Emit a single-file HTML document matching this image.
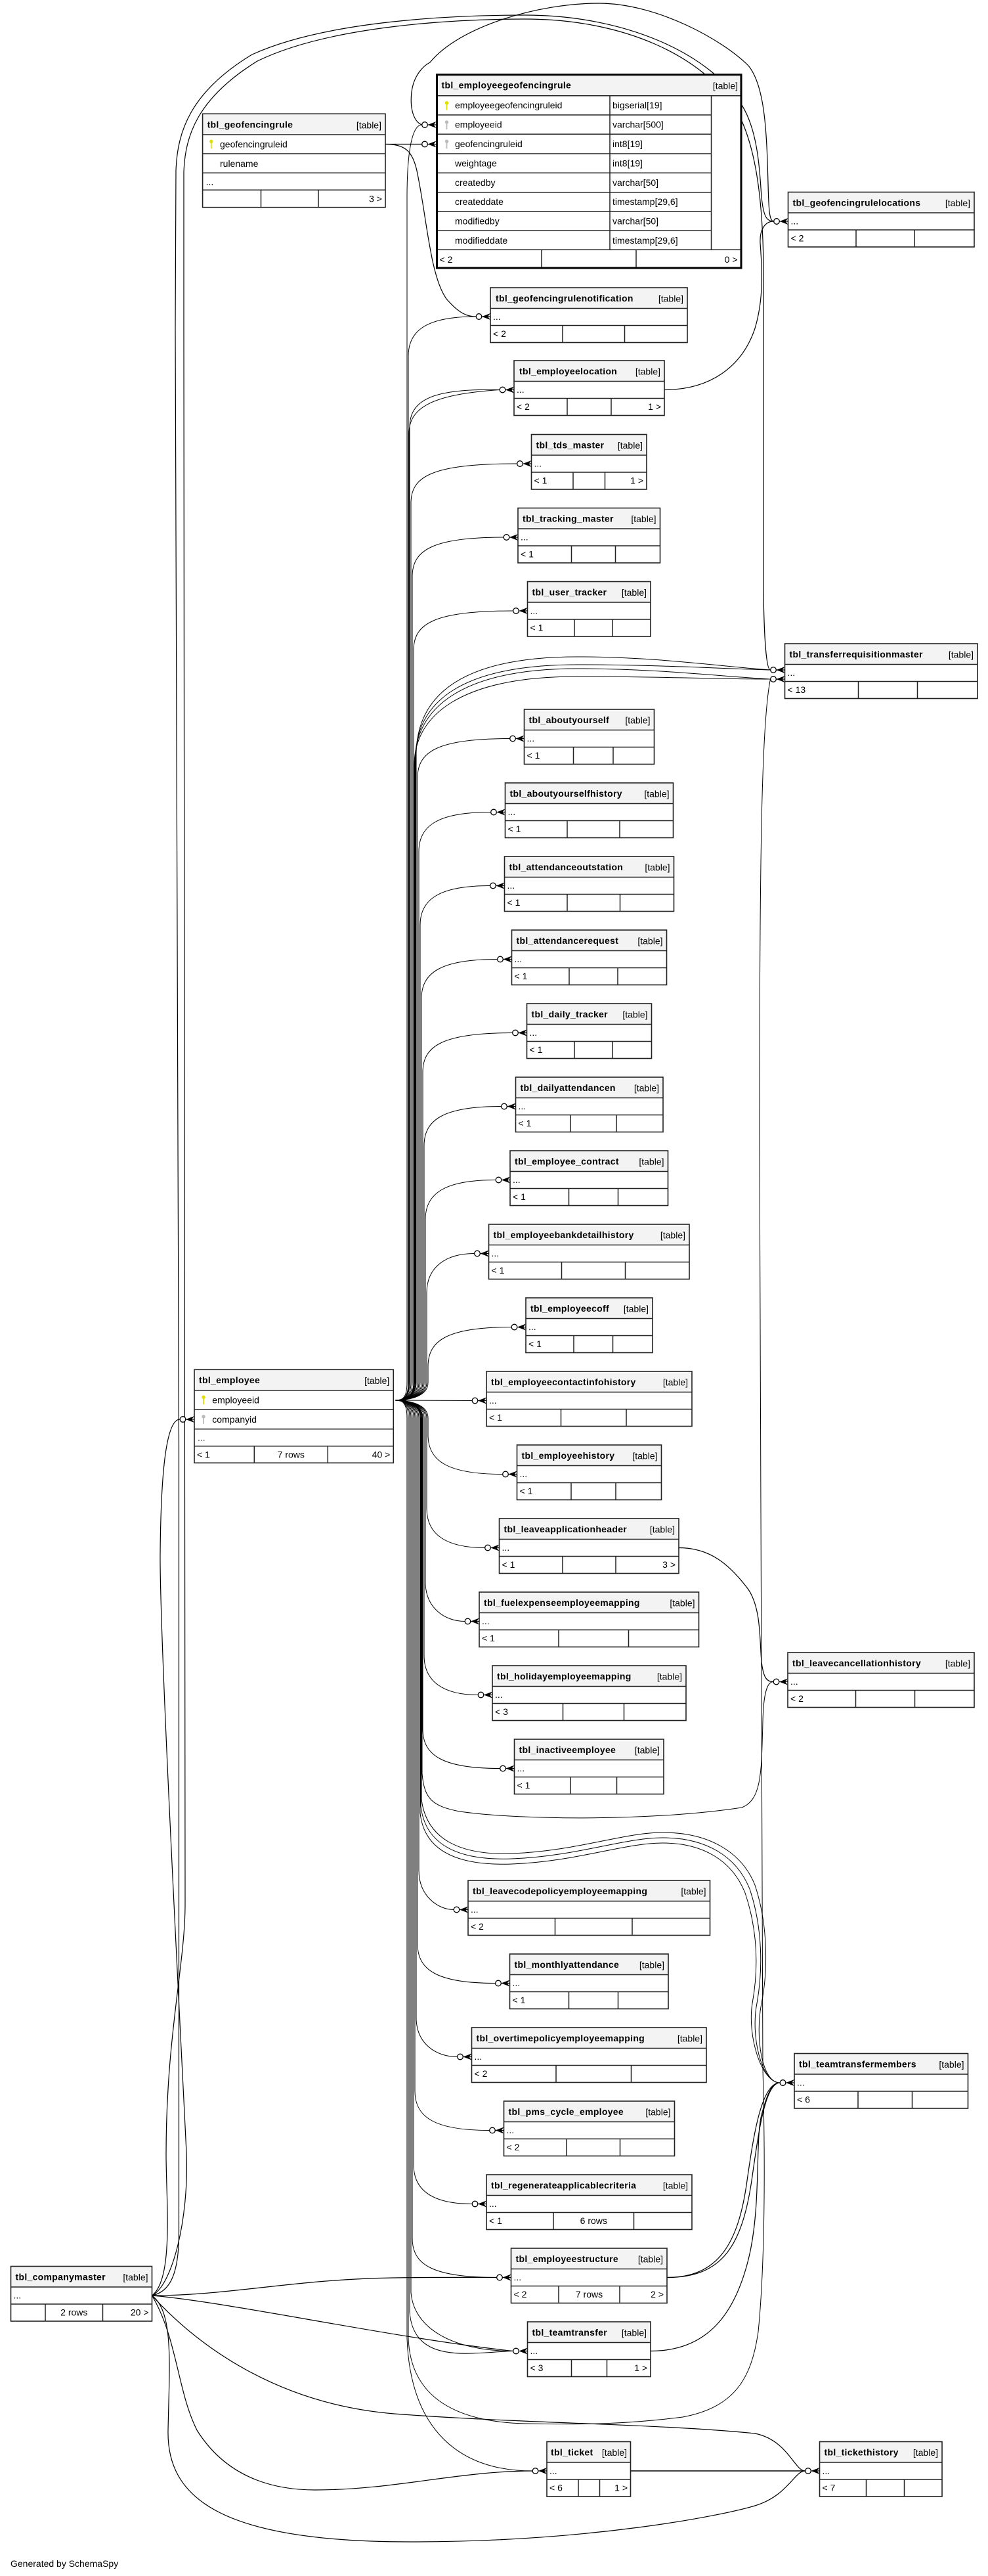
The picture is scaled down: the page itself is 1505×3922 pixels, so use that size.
<!DOCTYPE html>
<html>
<head>
<meta charset="utf-8">
<style>
html,body{margin:0;padding:0;background:#fff;}
body{width:1505px;height:3922px;overflow:hidden;}
svg{display:block;}
.c{fill:none;stroke:#000;stroke-width:1.2}
.b{fill:none;stroke:#000;stroke-width:1}
.bx{fill:none;stroke:#222;stroke-width:1.6}
.ln{fill:none;stroke:#222;stroke-width:1.5}
.hd{fill:#f3f3f3}
text{font-family:"Liberation Sans",Arial,sans-serif;font-size:14px;fill:#000}
.t{font-weight:bold;letter-spacing:0.3px}
</style>
</head>
<body>
<svg width="1505" height="3922" viewBox="0 0 1505 3922" xmlns="http://www.w3.org/2000/svg">
<defs>
<g id="cf">
<line x1="-13" y1="0" x2="0" y2="0" stroke="#000" stroke-width="1.2"/>
<polygon points="-13,0 0,-5 -4,0 0,5" fill="#000"/>
<circle cx="-17.5" cy="0" r="4.3" fill="#fff" stroke="#000" stroke-width="1.3"/>
</g>
<g id="key">
<circle cx="0" cy="0" r="2.7"/>
<rect x="-0.9" y="1" width="1.8" height="10"/>
</g>
</defs>
<rect width="1505" height="3922" fill="#fff"/>

<!-- ================= CONNECTORS ================= -->
<g class="b">
<!-- employee bundle: above -->
<path d="M602,2132 C612,2132 652,2130 652,2105 L652,2080.5 C652,2040.5 682,2020.5 779,2020.5"/>
<path d="M602,2132 C612,2132 650,2130 650,2105 L650,1968.5 C650,1928.5 680,1908.5 722.5,1908.5"/>
<path d="M602,2132 C612,2132 648,2130 648,2105 L648,1856.5 C648,1816.5 678,1796.5 755,1796.5"/>
<path d="M602,2132 C612,2132 646,2130 646,2105 L646,1744.5 C646,1704.5 676,1684.5 763.5,1684.5"/>
<path d="M602,2132 C612,2132 644,2130 644,2105 L644,1632.5 C644,1592.5 674,1572.5 780.5,1572.5"/>
<path d="M602,2132 C612,2132 642,2130 642,2105 L642,1520.5 C642,1480.5 672,1460.5 757.5,1460.5"/>
<path d="M602,2132 C612,2132 640,2130 640,2105 L640,1408.5 C640,1368.5 670,1348.5 746.5,1348.5"/>
<path d="M602,2132 C612,2132 638,2130 638,2105 L638,1296.5 C638,1256.5 668,1236.5 747.5,1236.5"/>
<path d="M602,2132 C612,2132 636,2130 636,2105 L636,1184.5 C636,1144.5 666,1124.5 776.5,1124.5"/>
<path d="M602,2132 C612,2132 634,2130 634,2105 L634,1150 C634,1060 700,1000 880,1000 C1000,1000 1100,1015 1173.5,1020"/>
<path d="M602,2132 C612,2132 633,2130 633,2105 L633,1155 C633,1070 700,1012 880,1012 C1000,1012 1100,1018 1173.5,1020"/>
<path d="M602,2132 C612,2132 632,2130 632,2105 L632,1160 C632,1080 700,1018 880,1018 C1000,1018 1100,1030 1173.5,1034"/>
<path d="M602,2132 C612,2132 631,2130 631,2105 L631,1165 C631,1090 700,1030 880,1030 C1000,1030 1100,1034 1173.5,1034"/>
<path d="M602,2132 C612,2132 630,2130 630,2105 L630,990 C630,950 660,930 781.5,930"/>
<path d="M602,2132 C612,2132 628,2130 628,2105 L628,878 C628,838 658,818 767,818"/>
<path d="M602,2132 C612,2132 626,2130 626,2105 L626,766 C626,726 656,706 787.5,706"/>
<path d="M602,2132 C612,2132 624,2130 624,2105 L624,651 C624,611 654,591 761,593.5"/>
<path d="M602,2132 C612,2132 623,2130 623,2105 L623,660 C623,620 660,600 761,593.5"/>
<path d="M602,2132 C612,2132 622,2130 622,2105 L622,542 C622,502 652,482 725,482"/>
<path d="M602,2132 C612,2132 620,2130 620,2105 L620,300 C620,230 628,190 642.5,190"/>
<path d="M602,2132 L719,2132.5"/>
<!-- employee bundle: below -->
<path d="M602,2132 C612,2132 652,2134 652,2159 L652,2184.5 C652,2224.5 682,2244.5 765.5,2244.5"/>
<path d="M602,2132 C612,2132 650,2134 650,2159 L650,2296.5 C650,2336.5 680,2356.5 738.5,2356.5"/>
<path d="M602,2132 C612,2132 648,2134 648,2159 L648,2408.5 C648,2448.5 678,2468.5 708,2468.5"/>
<path d="M602,2132 C612,2132 646,2134 646,2159 L646,2520.5 C646,2560.5 676,2580.5 728,2580.5"/>
<path d="M602,2132 C612,2132 644,2134 644,2159 L644,2632.5 C644,2672.5 674,2692.5 761.5,2692.5"/>
<path d="M602,2132 C612,2132 643,2134 643,2159 L643,2700 C646,2740 660,2750 700,2758 C800,2772 1000,2772 1130,2752 C1160,2740 1160,2700 1162,2620 C1163,2580 1168,2560.5 1178,2560.5"/>
<path d="M602,2132 C612,2132 642,2134 642,2159 L642,2740 C650,2800 700,2825 780,2822 C880,2818 950,2790 1010,2790 C1080,2790 1130,2820 1150,2870 C1170,2930 1170,3000 1160,3050 C1150,3100 1160,3171 1188,3171"/>
<path d="M602,2132 C612,2132 641,2134 641,2159 L641,2750 C648,2810 700,2833 780,2830 C880,2826 950,2798 1010,2798 C1075,2798 1122,2826 1142,2876 C1162,2936 1162,3000 1153,3050 C1143,3100 1160,3171 1188,3171"/>
<path d="M602,2132 C612,2132 640,2134 640,2159 L640,2760 C646,2820 700,2841 780,2838 C880,2834 950,2806 1010,2806 C1070,2806 1115,2832 1135,2882 C1155,2942 1155,3000 1146,3050 C1138,3100 1160,3171 1188,3171"/>
<path d="M602,2132 C612,2132 638,2134 638,2159 L638,2847.5 C638,2887.5 668,2907.5 691,2907.5"/>
<path d="M602,2132 C612,2132 636,2134 636,2159 L636,2959.5 C636,2999.5 666,3019.5 754.5,3019.5"/>
<path d="M602,2132 C612,2132 634,2134 634,2159 L634,3071.5 C634,3111.5 664,3131.5 696.5,3131.5"/>
<path d="M602,2132 C612,2132 632,2134 632,2159 L632,3183.5 C632,3223.5 662,3243.5 745.5,3243.5"/>
<path d="M602,2132 C612,2132 630,2134 630,2159 L630,3295.5 C630,3335.5 660,3355.5 719,3355.5"/>
<path d="M602,2132 C612,2132 628,2134 628,2159 L628,3407.5 C628,3447.5 658,3467.5 756.5,3467.5"/>
<path d="M602,2132 C612,2132 626,2134 626,2159 L626,3490 C630,3545 690,3579.5 781.5,3579.5"/>
<path d="M602,2132 C612,2132 624,2134 624,2159 L624,3520 C628,3575 670,3585 720,3583 C750,3582 770,3579.5 781.5,3579.5"/>
<path d="M602,2132 C612,2132 622,2134 622,2159 L622,3560 C625,3640 680,3687 800,3690 C900,3692 960,3690 1040,3680 C1120,3665 1145,3620 1155,3550 C1165,3450 1166,3300 1162,3150 L1157,1730 C1157,1300 1160,1100 1173.5,1034"/>
<path d="M602,2132 C612,2132 620,2134 620,2159 L620,3560 C625,3700 700,3762 811,3762"/>
</g>

<g class="c">
<!-- companymaster -->
<path d="M231.5,3495 C262,3480 288,3380 284,3278 C278,3150 243,2500 244,2366 C245,2250 252,2161 274,2161"/>
<path d="M231.5,3495 C255,3490 272.5,3470 272.5,3400 L272.5,2200 L267,500 L268,260 C270,200 290,140 384,83 C500,30 700,23 800,23 C950,23 1080,80 1130,160 C1155,200 1157,260 1160,300 C1163,330 1168,337 1178.5,337"/>
<path d="M231.5,3495 C265,3470 253,3350 253,3280 C253,3100 282,2990 282,2900 L280,500 L280,262 C282,207 300,150 392,93 C505,38 700,29 800,29 C950,29 1070,85 1120,165 C1150,215 1163,300 1163,420 L1163,900 C1164,980 1168,1020 1173.5,1020"/>
<path d="M231.5,3495 C350,3495 450,3470 600,3468 C680,3467 720,3467.5 756.5,3467.5"/>
<path d="M231.5,3495 C350,3505 600,3560 781.5,3579.5"/>
<path d="M231.5,3495 C270,3560 270,3640 300,3700 C350,3780 430,3791 480,3791 C600,3791 700,3762 811,3762"/>
<path d="M231.5,3495 C300,3570 420,3660 600,3675 C800,3690 1000,3690 1150,3705 C1200,3715 1210,3762 1226.5,3762"/>
<path d="M231.5,3495 C265,3520 258,3600 256,3700 C254,3800 330,3870 624,3870 C900,3870 1100,3830 1150,3815 C1200,3800 1210,3762 1226.5,3762"/>

<!-- geofencing -->
<path d="M642.5,190 C630,185 624,165 627,140 C630,115 645,100 655,95 C700,40 820,5 912,5 C1000,5 1100,60 1140,100 C1165,130 1168,200 1170,280 C1171,320 1172,337 1178.5,337"/>
<path d="M587,219.5 L642.5,219.5"/>
<path d="M587,219.5 C615,219.5 628,228 635,260 C650,330 655,420 680,455 C700,478 712,482 725,482"/>
<path d="M1012,593.5 C1080,593.5 1130,560 1150,500 C1165,450 1160,400 1158,370 C1157,350 1165,337 1178.5,337"/>
<!-- other -->
<path d="M1034,2356.5 C1080,2356.5 1110,2380 1140,2420 C1160,2450 1157,2500 1160,2530 C1163,2555 1168,2560.5 1178,2560.5"/>
<path d="M1016,3467.5 C1100,3467.5 1130,3420 1145,3320 C1155,3250 1165,3171 1188,3171"/>
<path d="M1016,3467.5 C1095,3467.5 1125,3415 1138,3320 C1148,3250 1160,3171 1188,3171"/>
<path d="M991,3579.5 C1080,3579.5 1120,3520 1140,3440 C1160,3360 1150,3260 1160,3220 C1168,3190 1175,3171 1188,3171"/>
<path d="M960.5,3762 L1226.5,3762" stroke-width="1.6"/>
</g>

<!-- ================= TABLES ================= -->

<!-- tbl_geofencingrule -->
<g transform="translate(308.6,173.3)">
<rect width="278.4" height="142.4" fill="#fff"/>
<rect width="278.4" height="31.7" class="hd"/>
<path class="ln" d="M0,31.7H278.4 M0,60.7H278.4 M0,90H278.4 M0,116H278.4 M88.9,116V142.4 M176.4,116V142.4"/>
<rect width="278.4" height="142.4" class="bx"/>
<text x="7" y="21" class="t">tbl_geofencingrule</text>
<text x="272.4" y="22" text-anchor="end">[table]</text>
<use href="#key" x="13.2" y="42" fill="#e0e000"/>
<text x="26.4" y="51">geofencingruleid</text>
<text x="26.4" y="80.5">rulename</text>
<text x="5" y="108">...</text>
<text x="273.4" y="134" text-anchor="end">3 &gt;</text>
</g>

<!-- tbl_employeegeofencingrule -->
<g transform="translate(664.5,112.7)">
<rect width="465.5" height="296.3" fill="#fff"/>
<rect width="465.5" height="33" class="hd"/>
<path class="ln" d="M0,33H465.5 M0,62.3H419 M0,91.6H419 M0,121.3H419 M0,150.6H419 M0,180H419 M0,209.3H419 M0,238.6H419 M0,267.6H465.5 M264.5,33V267.6 M419,33V267.6 M160.5,267.6V296.3 M304.5,267.6V296.3"/>
<rect x="1" y="1" width="463.5" height="294.3" fill="none" stroke="#000" stroke-width="3"/>
<text x="8" y="22" class="t">tbl_employeegeofencingrule</text>
<text x="459.5" y="23" text-anchor="end">[table]</text>
<use href="#key" x="16" y="44" fill="#e0e000"/>
<use href="#key" x="16" y="73.3" fill="#bbbbbb"/>
<use href="#key" x="16" y="102.6" fill="#bbbbbb"/>
<text x="28.5" y="52.5">employeegeofencingruleid</text>
<text x="268.5" y="52.5">bigserial[19]</text>
<text x="28.5" y="81.8">employeeid</text>
<text x="268.5" y="81.8">varchar[500]</text>
<text x="28.5" y="111.1">geofencingruleid</text>
<text x="268.5" y="111.1">int8[19]</text>
<text x="28.5" y="140.8">weightage</text>
<text x="268.5" y="140.8">int8[19]</text>
<text x="28.5" y="170.1">createdby</text>
<text x="268.5" y="170.1">varchar[50]</text>
<text x="28.5" y="199.5">createddate</text>
<text x="268.5" y="199.5">timestamp[29,6]</text>
<text x="28.5" y="228.8">modifiedby</text>
<text x="268.5" y="228.8">varchar[50]</text>
<text x="28.5" y="258.1">modifieddate</text>
<text x="268.5" y="258.1">timestamp[29,6]</text>
<text x="5" y="287.5">&lt; 2</text>
<text x="459" y="287.5" text-anchor="end">0 &gt;</text>
</g>

<!-- tbl_employee -->
<g transform="translate(296,2085.3)">
<rect width="303.3" height="142" fill="#fff"/>
<rect width="303.3" height="31.4" class="hd"/>
<path class="ln" d="M0,31.4H303.3 M0,61H303.3 M0,90.4H303.3 M0,116.4H303.3 M91.3,116.4V142 M203.3,116.4V142"/>
<rect width="303.3" height="142" class="bx"/>
<text x="7" y="20.5" class="t">tbl_employee</text>
<text x="297.3" y="21.5" text-anchor="end">[table]</text>
<use href="#key" x="14" y="41.9" fill="#e0e000"/>
<use href="#key" x="14" y="71.5" fill="#bbbbbb"/>
<text x="27.3" y="51">employeeid</text>
<text x="27.3" y="80.7">companyid</text>
<text x="5" y="108">...</text>
<text x="4" y="134">&lt; 1</text>
<text x="147.3" y="134" text-anchor="middle">7 rows</text>
<text x="298.3" y="134" text-anchor="end">40 &gt;</text>
</g>

<!-- simple tables -->
<g transform="translate(747,438)"><rect width="300" height="83.5" fill="#fff"/><rect width="300" height="31.5" class="hd"/><path class="ln" d="M0,31.5H300 M0,57.5H300 M110,57.5V83.5 M204.5,57.5V83.5"/><rect width="300" height="83.5" class="bx"/><text x="8" y="21" class="t">tbl_geofencingrulenotification</text><text x="294" y="21.5" text-anchor="end">[table]</text><text x="4" y="49">...</text><text x="4" y="75">&lt; 2</text></g>

<g transform="translate(783,549)"><rect width="229" height="83.5" fill="#fff"/><rect width="229" height="31.5" class="hd"/><path class="ln" d="M0,31.5H229 M0,57.5H229 M81,57.5V83.5 M148,57.5V83.5"/><rect width="229" height="83.5" class="bx"/><text x="8" y="21" class="t">tbl_employeelocation</text><text x="223" y="21.5" text-anchor="end">[table]</text><text x="4" y="49">...</text><text x="4" y="75">&lt; 2</text><text x="224" y="75" text-anchor="end">1 &gt;</text></g>

<g transform="translate(809.5,661.5)"><rect width="175.5" height="83.5" fill="#fff"/><rect width="175.5" height="31.5" class="hd"/><path class="ln" d="M0,31.5H175.5 M0,57.5H175.5 M63.5,57.5V83.5 M112,57.5V83.5"/><rect width="175.5" height="83.5" class="bx"/><text x="7" y="21" class="t">tbl_tds_master</text><text x="169.5" y="21.5" text-anchor="end">[table]</text><text x="4" y="49">...</text><text x="4" y="75">&lt; 1</text><text x="170.5" y="75" text-anchor="end">1 &gt;</text></g>

<g transform="translate(789,773.5)"><rect width="216.5" height="83.5" fill="#fff"/><rect width="216.5" height="31.5" class="hd"/><path class="ln" d="M0,31.5H216.5 M0,57.5H216.5 M81.5,57.5V83.5 M148.5,57.5V83.5"/><rect width="216.5" height="83.5" class="bx"/><text x="7" y="21" class="t">tbl_tracking_master</text><text x="210.5" y="21.5" text-anchor="end">[table]</text><text x="4" y="49">...</text><text x="4" y="75">&lt; 1</text></g>

<g transform="translate(803.5,885.5)"><rect width="187.5" height="83.5" fill="#fff"/><rect width="187.5" height="31.5" class="hd"/><path class="ln" d="M0,31.5H187.5 M0,57.5H187.5 M71.5,57.5V83.5 M129.5,57.5V83.5"/><rect width="187.5" height="83.5" class="bx"/><text x="7" y="21" class="t">tbl_user_tracker</text><text x="181.5" y="21.5" text-anchor="end">[table]</text><text x="4" y="49">...</text><text x="4" y="75">&lt; 1</text></g>

<g transform="translate(1195.5,980)"><rect width="293.5" height="83.5" fill="#fff"/><rect width="293.5" height="31.5" class="hd"/><path class="ln" d="M0,31.5H293.5 M0,57.5H293.5 M112,57.5V83.5 M202,57.5V83.5"/><rect width="293.5" height="83.5" class="bx"/><text x="7" y="21" class="t">tbl_transferrequisitionmaster</text><text x="287.5" y="21.5" text-anchor="end">[table]</text><text x="4" y="49">...</text><text x="4" y="75">&lt; 13</text></g>

<g transform="translate(1200.5,292.5)"><rect width="283.5" height="83.5" fill="#fff"/><rect width="283.5" height="31.5" class="hd"/><path class="ln" d="M0,31.5H283.5 M0,57.5H283.5 M103.5,57.5V83.5 M192.5,57.5V83.5"/><rect width="283.5" height="83.5" class="bx"/><text x="7" y="21" class="t">tbl_geofencingrulelocations</text><text x="277.5" y="21.5" text-anchor="end">[table]</text><text x="4" y="49">...</text><text x="4" y="75">&lt; 2</text></g>

<g transform="translate(798.5,1080)"><rect width="198" height="83.5" fill="#fff"/><rect width="198" height="31.5" class="hd"/><path class="ln" d="M0,31.5H198 M0,57.5H198 M75,57.5V83.5 M135.5,57.5V83.5"/><rect width="198" height="83.5" class="bx"/><text x="7" y="21" class="t">tbl_aboutyourself</text><text x="192" y="21.5" text-anchor="end">[table]</text><text x="4" y="49">...</text><text x="4" y="75">&lt; 1</text></g>

<g transform="translate(769.5,1192)"><rect width="256" height="83.5" fill="#fff"/><rect width="256" height="31.5" class="hd"/><path class="ln" d="M0,31.5H256 M0,57.5H256 M94.5,57.5V83.5 M174.5,57.5V83.5"/><rect width="256" height="83.5" class="bx"/><text x="7" y="21" class="t">tbl_aboutyourselfhistory</text><text x="250" y="21.5" text-anchor="end">[table]</text><text x="4" y="49">...</text><text x="4" y="75">&lt; 1</text></g>

<g transform="translate(768.5,1304)"><rect width="258" height="83.5" fill="#fff"/><rect width="258" height="31.5" class="hd"/><path class="ln" d="M0,31.5H258 M0,57.5H258 M95.5,57.5V83.5 M176,57.5V83.5"/><rect width="258" height="83.5" class="bx"/><text x="7" y="21" class="t">tbl_attendanceoutstation</text><text x="252" y="21.5" text-anchor="end">[table]</text><text x="4" y="49">...</text><text x="4" y="75">&lt; 1</text></g>

<g transform="translate(779.5,1416)"><rect width="236" height="83.5" fill="#fff"/><rect width="236" height="31.5" class="hd"/><path class="ln" d="M0,31.5H236 M0,57.5H236 M87.5,57.5V83.5 M161.5,57.5V83.5"/><rect width="236" height="83.5" class="bx"/><text x="7" y="21" class="t">tbl_attendancerequest</text><text x="230" y="21.5" text-anchor="end">[table]</text><text x="4" y="49">...</text><text x="4" y="75">&lt; 1</text></g>

<g transform="translate(802.5,1528)"><rect width="190" height="83.5" fill="#fff"/><rect width="190" height="31.5" class="hd"/><path class="ln" d="M0,31.5H190 M0,57.5H190 M72.5,57.5V83.5 M130.5,57.5V83.5"/><rect width="190" height="83.5" class="bx"/><text x="7" y="21" class="t">tbl_daily_tracker</text><text x="184" y="21.5" text-anchor="end">[table]</text><text x="4" y="49">...</text><text x="4" y="75">&lt; 1</text></g>

<g transform="translate(785.5,1640)"><rect width="224.5" height="83.5" fill="#fff"/><rect width="224.5" height="31.5" class="hd"/><path class="ln" d="M0,31.5H224.5 M0,57.5H224.5 M83.5,57.5V83.5 M153.5,57.5V83.5"/><rect width="224.5" height="83.5" class="bx"/><text x="7" y="21" class="t">tbl_dailyattendancen</text><text x="218.5" y="21.5" text-anchor="end">[table]</text><text x="4" y="49">...</text><text x="4" y="75">&lt; 1</text></g>

<g transform="translate(777,1752)"><rect width="240.5" height="83.5" fill="#fff"/><rect width="240.5" height="31.5" class="hd"/><path class="ln" d="M0,31.5H240.5 M0,57.5H240.5 M89.5,57.5V83.5 M164.5,57.5V83.5"/><rect width="240.5" height="83.5" class="bx"/><text x="7" y="21" class="t">tbl_employee_contract</text><text x="234.5" y="21.5" text-anchor="end">[table]</text><text x="4" y="49">...</text><text x="4" y="75">&lt; 1</text></g>

<g transform="translate(744.5,1864)"><rect width="305.5" height="83.5" fill="#fff"/><rect width="305.5" height="31.5" class="hd"/><path class="ln" d="M0,31.5H305.5 M0,57.5H305.5 M111,57.5V83.5 M208,57.5V83.5"/><rect width="305.5" height="83.5" class="bx"/><text x="7" y="21" class="t">tbl_employeebankdetailhistory</text><text x="299.5" y="21.5" text-anchor="end">[table]</text><text x="4" y="49">...</text><text x="4" y="75">&lt; 1</text></g>

<g transform="translate(801,1976)"><rect width="193" height="83.5" fill="#fff"/><rect width="193" height="31.5" class="hd"/><path class="ln" d="M0,31.5H193 M0,57.5H193 M73,57.5V83.5 M132.5,57.5V83.5"/><rect width="193" height="83.5" class="bx"/><text x="7" y="21" class="t">tbl_employeecoff</text><text x="187" y="21.5" text-anchor="end">[table]</text><text x="4" y="49">...</text><text x="4" y="75">&lt; 1</text></g>

<g transform="translate(741,2088)"><rect width="313" height="83.5" fill="#fff"/><rect width="313" height="31.5" class="hd"/><path class="ln" d="M0,31.5H313 M0,57.5H313 M113.5,57.5V83.5 M213,57.5V83.5"/><rect width="313" height="83.5" class="bx"/><text x="7" y="21" class="t">tbl_employeecontactinfohistory</text><text x="307" y="21.5" text-anchor="end">[table]</text><text x="4" y="49">...</text><text x="4" y="75">&lt; 1</text></g>

<g transform="translate(787.5,2200)"><rect width="220" height="83.5" fill="#fff"/><rect width="220" height="31.5" class="hd"/><path class="ln" d="M0,31.5H220 M0,57.5H220 M82.5,57.5V83.5 M150.5,57.5V83.5"/><rect width="220" height="83.5" class="bx"/><text x="7" y="21" class="t">tbl_employeehistory</text><text x="214" y="21.5" text-anchor="end">[table]</text><text x="4" y="49">...</text><text x="4" y="75">&lt; 1</text></g>

<g transform="translate(760.5,2312)"><rect width="273.5" height="83.5" fill="#fff"/><rect width="273.5" height="31.5" class="hd"/><path class="ln" d="M0,31.5H273.5 M0,57.5H273.5 M96.5,57.5V83.5 M177.5,57.5V83.5"/><rect width="273.5" height="83.5" class="bx"/><text x="7" y="21" class="t">tbl_leaveapplicationheader</text><text x="267.5" y="21.5" text-anchor="end">[table]</text><text x="4" y="49">...</text><text x="4" y="75">&lt; 1</text><text x="268.5" y="75" text-anchor="end">3 &gt;</text></g>

<g transform="translate(730,2424)"><rect width="334.5" height="83.5" fill="#fff"/><rect width="334.5" height="31.5" class="hd"/><path class="ln" d="M0,31.5H334.5 M0,57.5H334.5 M121,57.5V83.5 M227.5,57.5V83.5"/><rect width="334.5" height="83.5" class="bx"/><text x="7" y="21" class="t">tbl_fuelexpenseemployeemapping</text><text x="328.5" y="21.5" text-anchor="end">[table]</text><text x="4" y="49">...</text><text x="4" y="75">&lt; 1</text></g>

<g transform="translate(750,2536)"><rect width="295" height="83.5" fill="#fff"/><rect width="295" height="31.5" class="hd"/><path class="ln" d="M0,31.5H295 M0,57.5H295 M107.5,57.5V83.5 M200.5,57.5V83.5"/><rect width="295" height="83.5" class="bx"/><text x="7" y="21" class="t">tbl_holidayemployeemapping</text><text x="289" y="21.5" text-anchor="end">[table]</text><text x="4" y="49">...</text><text x="4" y="75">&lt; 3</text></g>

<g transform="translate(783.5,2648)"><rect width="227.5" height="83.5" fill="#fff"/><rect width="227.5" height="31.5" class="hd"/><path class="ln" d="M0,31.5H227.5 M0,57.5H227.5 M85.5,57.5V83.5 M156,57.5V83.5"/><rect width="227.5" height="83.5" class="bx"/><text x="7" y="21" class="t">tbl_inactiveemployee</text><text x="221.5" y="21.5" text-anchor="end">[table]</text><text x="4" y="49">...</text><text x="4" y="75">&lt; 1</text></g>

<g transform="translate(1200,2516)"><rect width="284" height="83.5" fill="#fff"/><rect width="284" height="31.5" class="hd"/><path class="ln" d="M0,31.5H284 M0,57.5H284 M103.5,57.5V83.5 M193.5,57.5V83.5"/><rect width="284" height="83.5" class="bx"/><text x="7" y="21" class="t">tbl_leavecancellationhistory</text><text x="278" y="21.5" text-anchor="end">[table]</text><text x="4" y="49">...</text><text x="4" y="75">&lt; 2</text></g>

<g transform="translate(713,2863)"><rect width="368.5" height="83.5" fill="#fff"/><rect width="368.5" height="31.5" class="hd"/><path class="ln" d="M0,31.5H368.5 M0,57.5H368.5 M132.5,57.5V83.5 M250,57.5V83.5"/><rect width="368.5" height="83.5" class="bx"/><text x="7" y="21" class="t">tbl_leavecodepolicyemployeemapping</text><text x="362.5" y="21.5" text-anchor="end">[table]</text><text x="4" y="49">...</text><text x="4" y="75">&lt; 2</text></g>

<g transform="translate(776.5,2975)"><rect width="241.5" height="83.5" fill="#fff"/><rect width="241.5" height="31.5" class="hd"/><path class="ln" d="M0,31.5H241.5 M0,57.5H241.5 M90,57.5V83.5 M165,57.5V83.5"/><rect width="241.5" height="83.5" class="bx"/><text x="7" y="21" class="t">tbl_monthlyattendance</text><text x="235.5" y="21.5" text-anchor="end">[table]</text><text x="4" y="49">...</text><text x="4" y="75">&lt; 1</text></g>

<g transform="translate(718.5,3087)"><rect width="357.5" height="83.5" fill="#fff"/><rect width="357.5" height="31.5" class="hd"/><path class="ln" d="M0,31.5H357.5 M0,57.5H357.5 M128.5,57.5V83.5 M243,57.5V83.5"/><rect width="357.5" height="83.5" class="bx"/><text x="7" y="21" class="t">tbl_overtimepolicyemployeemapping</text><text x="351.5" y="21.5" text-anchor="end">[table]</text><text x="4" y="49">...</text><text x="4" y="75">&lt; 2</text></g>

<g transform="translate(767.5,3199)"><rect width="260" height="83.5" fill="#fff"/><rect width="260" height="31.5" class="hd"/><path class="ln" d="M0,31.5H260 M0,57.5H260 M95.5,57.5V83.5 M177,57.5V83.5"/><rect width="260" height="83.5" class="bx"/><text x="7" y="21" class="t">tbl_pms_cycle_employee</text><text x="254" y="21.5" text-anchor="end">[table]</text><text x="4" y="49">...</text><text x="4" y="75">&lt; 2</text></g>

<g transform="translate(741,3311)"><rect width="313" height="83.5" fill="#fff"/><rect width="313" height="31.5" class="hd"/><path class="ln" d="M0,31.5H313 M0,57.5H313 M102,57.5V83.5 M224.5,57.5V83.5"/><rect width="313" height="83.5" class="bx"/><text x="7" y="21" class="t">tbl_regenerateapplicablecriteria</text><text x="307" y="21.5" text-anchor="end">[table]</text><text x="4" y="49">...</text><text x="4" y="75">&lt; 1</text><text x="163.3" y="75" text-anchor="middle">6 rows</text></g>

<g transform="translate(778.5,3423)"><rect width="237.5" height="83.5" fill="#fff"/><rect width="237.5" height="31.5" class="hd"/><path class="ln" d="M0,31.5H237.5 M0,57.5H237.5 M72.5,57.5V83.5 M165.5,57.5V83.5"/><rect width="237.5" height="83.5" class="bx"/><text x="7" y="21" class="t">tbl_employeestructure</text><text x="231.5" y="21.5" text-anchor="end">[table]</text><text x="4" y="49">...</text><text x="4" y="75">&lt; 2</text><text x="119" y="75" text-anchor="middle">7 rows</text><text x="232.5" y="75" text-anchor="end">2 &gt;</text></g>

<g transform="translate(803.5,3535)"><rect width="187.5" height="83.5" fill="#fff"/><rect width="187.5" height="31.5" class="hd"/><path class="ln" d="M0,31.5H187.5 M0,57.5H187.5 M67,57.5V83.5 M121,57.5V83.5"/><rect width="187.5" height="83.5" class="bx"/><text x="7" y="21" class="t">tbl_teamtransfer</text><text x="181.5" y="21.5" text-anchor="end">[table]</text><text x="4" y="49">...</text><text x="4" y="75">&lt; 3</text><text x="182.5" y="75" text-anchor="end">1 &gt;</text></g>

<g transform="translate(1210,3126.5)"><rect width="264.5" height="83.5" fill="#fff"/><rect width="264.5" height="31.5" class="hd"/><path class="ln" d="M0,31.5H264.5 M0,57.5H264.5 M97,57.5V83.5 M179.5,57.5V83.5"/><rect width="264.5" height="83.5" class="bx"/><text x="7" y="21" class="t">tbl_teamtransfermembers</text><text x="258.5" y="21.5" text-anchor="end">[table]</text><text x="4" y="49">...</text><text x="4" y="75">&lt; 6</text></g>

<g transform="translate(16.5,3450.5)"><rect width="215" height="83.5" fill="#fff"/><rect width="215" height="31.5" class="hd"/><path class="ln" d="M0,31.5H215 M0,57.5H215 M52.5,57.5V83.5 M140,57.5V83.5"/><rect width="215" height="83.5" class="bx"/><text x="7" y="21" class="t">tbl_companymaster</text><text x="209" y="21.5" text-anchor="end">[table]</text><text x="4" y="49">...</text><text x="96.3" y="75" text-anchor="middle">2 rows</text><text x="210" y="75" text-anchor="end">20 &gt;</text></g>

<g transform="translate(833,3717.5)"><rect width="127.5" height="83.5" fill="#fff"/><rect width="127.5" height="31.5" class="hd"/><path class="ln" d="M0,31.5H127.5 M0,57.5H127.5 M48,57.5V83.5 M80.5,57.5V83.5"/><rect width="127.5" height="83.5" class="bx"/><text x="6" y="21" class="t">tbl_ticket</text><text x="122" y="21.5" text-anchor="end">[table]</text><text x="4" y="49">...</text><text x="4" y="75">&lt; 6</text><text x="123" y="75" text-anchor="end">1 &gt;</text></g>

<g transform="translate(1248.5,3717.5)"><rect width="186.5" height="83.5" fill="#fff"/><rect width="186.5" height="31.5" class="hd"/><path class="ln" d="M0,31.5H186.5 M0,57.5H186.5 M71,57.5V83.5 M129,57.5V83.5"/><rect width="186.5" height="83.5" class="bx"/><text x="7" y="21" class="t">tbl_tickethistory</text><text x="180.5" y="21.5" text-anchor="end">[table]</text><text x="4" y="49">...</text><text x="4" y="75">&lt; 7</text></g>

<!-- ================= CROW'S FEET ================= -->
<use href="#cf" x="664.5" y="190"/>
<use href="#cf" x="664.5" y="219.5"/>
<use href="#cf" x="296" y="2161"/>
<use href="#cf" x="1200.5" y="337"/>
<use href="#cf" x="747" y="482"/>
<use href="#cf" x="783" y="593.5"/>
<use href="#cf" x="809.5" y="706"/>
<use href="#cf" x="789" y="818"/>
<use href="#cf" x="803.5" y="930"/>
<use href="#cf" x="1195.5" y="1020"/>
<use href="#cf" x="1195.5" y="1034"/>
<use href="#cf" x="798.5" y="1124.5"/>
<use href="#cf" x="769.5" y="1236.5"/>
<use href="#cf" x="768.5" y="1348.5"/>
<use href="#cf" x="779.5" y="1460.5"/>
<use href="#cf" x="802.5" y="1572.5"/>
<use href="#cf" x="785.5" y="1684.5"/>
<use href="#cf" x="777" y="1796.5"/>
<use href="#cf" x="744.5" y="1908.5"/>
<use href="#cf" x="801" y="2020.5"/>
<use href="#cf" x="741" y="2132.5"/>
<use href="#cf" x="787.5" y="2244.5"/>
<use href="#cf" x="760.5" y="2356.5"/>
<use href="#cf" x="730" y="2468.5"/>
<use href="#cf" x="750" y="2580.5"/>
<use href="#cf" x="783.5" y="2692.5"/>
<use href="#cf" x="1200" y="2560.5"/>
<use href="#cf" x="713" y="2907.5"/>
<use href="#cf" x="776.5" y="3019.5"/>
<use href="#cf" x="718.5" y="3131.5"/>
<use href="#cf" x="767.5" y="3243.5"/>
<use href="#cf" x="741" y="3355.5"/>
<use href="#cf" x="778.5" y="3467.5"/>
<use href="#cf" x="803.5" y="3579.5"/>
<use href="#cf" x="1210" y="3171"/>
<use href="#cf" x="833" y="3762"/>
<use href="#cf" x="1248.5" y="3762"/>

<text x="16" y="3908">Generated by SchemaSpy</text>
</svg>
</body>
</html>
